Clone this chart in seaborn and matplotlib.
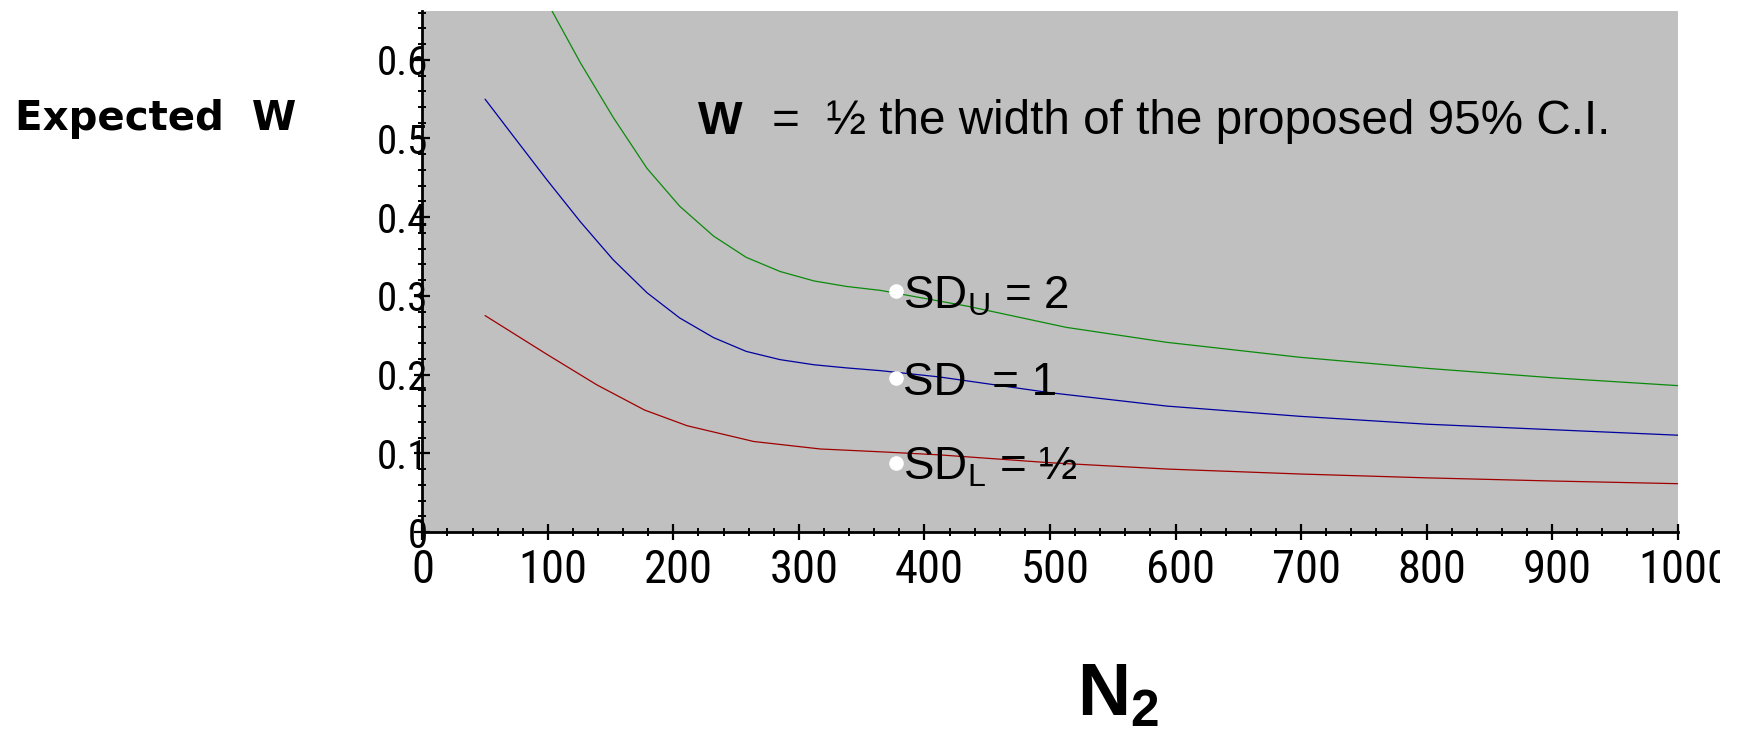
import matplotlib
matplotlib.use("Agg")
import matplotlib.pyplot as plt
import pandas as pd
import seaborn as sns
from matplotlib import font_manager
from matplotlib.font_manager import FontProperties
from matplotlib.textpath import TextPath
from matplotlib.ticker import MultipleLocator
from matplotlib.transforms import Bbox, ScaledTranslation, TransformedBbox

# Expected half-width W of the proposed 95% C.I. against the sample size N2
n_sd_upper = [103, 126, 152, 179, 205, 232, 258, 285, 312, 338, 365, 434, 513,
              593, 699, 800, 900, 1000]
w_sd_upper = [0.663, 0.596, 0.527, 0.462, 0.414, 0.376, 0.349, 0.331, 0.319,
              0.312, 0.307, 0.287, 0.260, 0.241, 0.222, 0.208, 0.196, 0.186]

n_sd_mid = [50, 73, 99, 126, 152, 179, 205, 232, 258, 285, 312, 338, 365, 412,
            500, 593, 699, 800, 900, 1000]
w_sd_mid = [0.550, 0.502, 0.448, 0.394, 0.346, 0.304, 0.272, 0.247, 0.2295, 0.219,
            0.2125, 0.2085, 0.205, 0.197, 0.177, 0.160, 0.147, 0.137, 0.130, 0.123]

n_sd_lower = [50, 99, 139, 177, 211, 264, 317, 370, 412, 500, 593, 699, 800,
              900, 1000]
w_sd_lower = [0.275, 0.226, 0.187, 0.155, 0.135, 0.115, 0.1055, 0.1015, 0.098,
              0.088, 0.080, 0.0737, 0.0688, 0.0648, 0.0614]

series_names = ["SD_U", "SD", "SD_L"]
series_colors = ["#0b8a0b", "#0000a0", "#a00000"]

label_n = 377
label_w = [0.306, 0.196, 0.088]
label_text = [r"SD$_\mathrm{U}$ = 2", "SD  = 1", r"SD$_\mathrm{L}$ = ½"]

x_ticks = [0, 100, 200, 300, 400, 500, 600, 700, 800, 900, 1000]
y_ticks = [0, 0.1, 0.2, 0.3, 0.4, 0.5, 0.6]
y_tick_labels = ["0", "0.1", "0.2", "0.3", "0.4", "0.5", "0.6"]

frames = []
for name, ns, ws in zip(series_names,
                        [n_sd_upper, n_sd_mid, n_sd_lower],
                        [w_sd_upper, w_sd_mid, w_sd_lower]):
    frames.append(pd.DataFrame({"N2": ns, "W": ws, "curve": name}))
data = pd.concat(frames, ignore_index=True)

sns.set_theme(style="white")
plt.rcParams["font.family"] = ["Liberation Sans", "DejaVu Sans"]
plt.rcParams["text.color"] = "black"
plt.rcParams["xtick.color"] = "black"
plt.rcParams["ytick.color"] = "black"
plt.rcParams["mathtext.fontset"] = "custom"
plt.rcParams["mathtext.rm"] = "Liberation Sans"
plt.rcParams["mathtext.bf"] = "Liberation Sans:bold"
plt.rcParams["mathtext.it"] = "Liberation Sans:italic"


def digit_metrics(fprop):
    """Advance per digit and cap height of a font, both in em units."""
    wide = TextPath((0, 0), "0000000000", size=1, prop=fprop).get_extents()
    one = TextPath((0, 0), "0", size=1, prop=fprop).get_extents()
    return (wide.x1 - one.x0) / 10, one.height


# tall, narrow lettering for the axis numbers: choose the most condensed sans face
candidates = {"Liberation Sans Narrow", "Liberation Sans", "Noto Sans", "Roboto",
              "Roboto Condensed", "Open Sans", "Open Sans Condensed", "DejaVu Sans",
              "Lato", "Inter", "Noto Sans Display"}
best = None
for entry in font_manager.fontManager.ttflist:
    if entry.name not in candidates or entry.style != "normal":
        continue
    if entry.weight not in (400, "normal", "regular", "book"):
        continue
    try:
        fp = FontProperties(fname=entry.fname)
        adv, cap = digit_metrics(fp)
    except Exception:
        continue
    if cap <= 0:
        continue
    score = abs(adv / cap - 0.6)
    if best is None or score < best[0]:
        best = (score, entry.fname, cap)

if best is not None:
    tick_fname, tick_cap = best[1], best[2]
else:
    tick_fname, tick_cap = None, 0.716


def tick_props(cap_px):
    size = cap_px / tick_cap * 72 / 100
    if tick_fname:
        return FontProperties(fname=tick_fname, size=size)
    return FontProperties(family="Liberation Sans", size=size)


W_PX, H_PX = 1737, 731
fig = plt.figure(figsize=(W_PX / 100, H_PX / 100), dpi=100)
ax = fig.add_axes([422.3 / W_PX, 1 - 532 / H_PX, 1255.4 / W_PX, 521 / H_PX])
ax.set_facecolor("#c0c0c0")

sns.lineplot(data=data, x="N2", y="W", hue="curve", hue_order=series_names,
             palette=series_colors, estimator=None, sort=False, linewidth=0.9,
             legend=False, ax=ax)

ax.scatter([label_n] * 3, label_w, s=110, color="white", zorder=5, linewidths=0)
for w, txt in zip(label_w, label_text):
    ax.annotate(txt, xy=(label_n, w), xytext=(7, -17), textcoords="offset pixels",
                ha="left", va="baseline", fontsize=33, color="black")

ax.set_xlim(0, 1000)
ax.set_ylim(0, 0.662)
ax.set_xticks(x_ticks)
ax.set_xticklabels([str(t) for t in x_ticks], fontproperties=tick_props(34))
ax.set_yticks(y_ticks)
ax.set_yticklabels(y_tick_labels, fontproperties=tick_props(30))
ax.xaxis.set_minor_locator(MultipleLocator(20))
ax.yaxis.set_minor_locator(MultipleLocator(0.02))

for side in ["top", "right"]:
    ax.spines[side].set_visible(False)
for side in ["left", "bottom"]:
    ax.spines[side].set_linewidth(2.0)
    ax.spines[side].set_color("black")

ax.tick_params(axis="both", which="major", direction="inout", length=11, width=1.6,
               color="black", labelcolor="black", bottom=True, left=True)
ax.tick_params(axis="both", which="minor", direction="inout", length=6, width=1.4,
               color="black", bottom=True, left=True)
ax.tick_params(axis="x", which="major", pad=6)
ax.tick_params(axis="y", which="major", pad=-9.5)
ax.set_xlabel("")
ax.set_ylabel("")

# numbers along N2 sit a little right of their ticks; the last one is cut at the edge
edge_clip = TransformedBbox(Bbox([[0, 0], [1720 / W_PX, 1]]), fig.transFigure)
for lab in ax.get_xticklabels():
    shift = 2 * len(lab.get_text()) - 1
    lab.set_transform(lab.get_transform()
                      + ScaledTranslation(shift / 100, 0, fig.dpi_scale_trans))
    lab.set_clip_box(edge_clip)
    lab.set_clip_on(True)


def px(x, y):
    return x / W_PX, 1 - y / H_PX


fig.text(*px(15, 130), "Expected  W", fontsize=29, fontweight="bold",
         family="DejaVu Sans", ha="left", va="baseline")
fig.text(*px(1077, 715), r"$\mathbf{N_2}$", fontsize=53, ha="left", va="baseline")
fig.text(*px(698, 134), "W", fontsize=34, fontweight="bold", ha="left", va="baseline")
fig.text(*px(772, 134), "=  ½ the width of the proposed 95% C.I.", fontsize=34.3,
         ha="left", va="baseline")

fig.savefig("out.png", dpi=100)
